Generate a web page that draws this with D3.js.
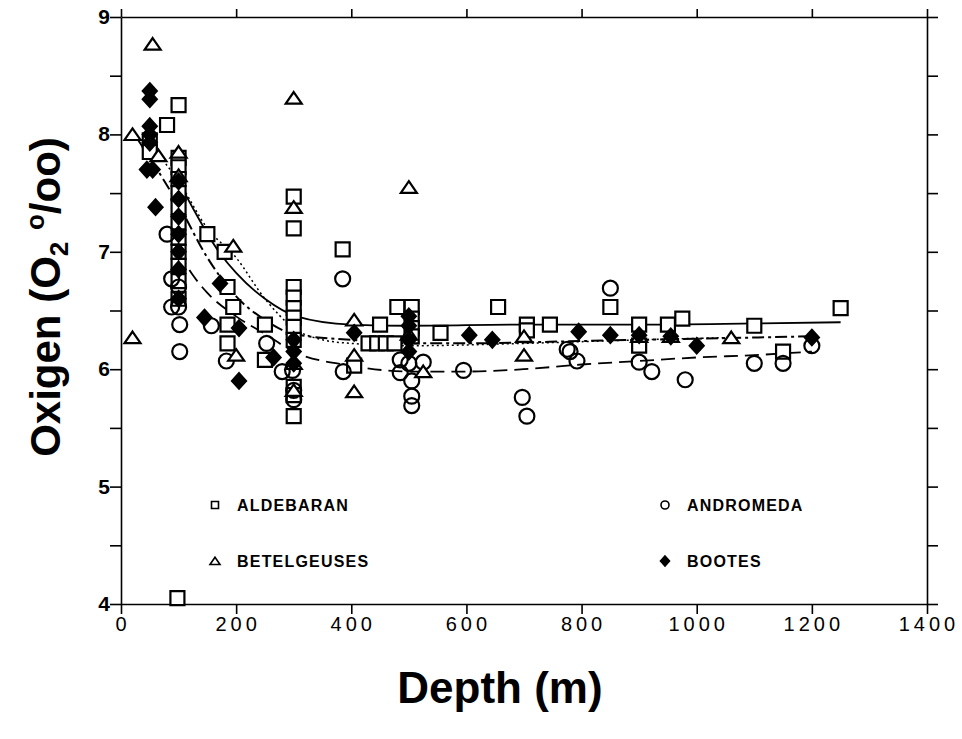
<!DOCTYPE html>
<html>
<head>
<meta charset="utf-8">
<script src="https://cdn.jsdelivr.net/npm/d3@7"></script>
<style>
body { margin: 0; background: #fff; }
</style>
</head>
<body>
<script>
// points: [depth m, oxygen]
var aldebaran = [[98,4.05],[100,8.25],[80,8.08],[100,7.8],[100,7.72],[100,7.62],[100,7.5],[100,7.38],[100,7.25],
    [100,7.12],[100,7.0],[100,6.88],[100,6.75],[100,6.6],[50,7.95],[50,7.85],[150,7.15],[180,7.0],[185,6.7],
    [195,6.53],[185,6.38],[185,6.22],[250,6.38],[250,6.08],[300,7.47],[300,7.2],[300,6.7],[300,6.61],[300,6.52],
    [300,6.44],[300,6.36],[300,6.25],[300,5.85],[300,5.78],[300,5.6],[385,7.02],[405,6.03],[430,6.22],[445,6.22],
    [460,6.22],[475,6.22],[450,6.38],[480,6.53],[505,6.53],[505,6.43],[505,6.35],[505,6.28],[555,6.31],[655,6.53],
    [705,6.38],[705,6.33],[745,6.38],[850,6.53],[900,6.38],[900,6.2],[950,6.38],[975,6.43],[1100,6.37],
    [1150,6.15],[1250,6.52]];
var andromeda = [[80,7.15],[88,6.77],[100,6.7],[88,6.53],[100,6.53],[102,6.38],[102,6.15],[157,6.37],[183,6.07],
    [253,6.22],[280,5.98],[298,5.99],[300,5.82],[300,5.74],[385,6.77],[386,5.98],[485,6.08],[485,5.97],[500,6.05],
    [505,5.9],[505,5.77],[505,5.69],[525,6.06],[595,5.99],[697,5.76],[705,5.6],[775,6.17],[780,6.15],[792,6.07],
    [850,6.69],[900,6.06],[922,5.98],[980,5.91],[1100,6.05],[1150,6.05],[1200,6.2]];
var betelgeuses = [[20,8.0],[20,6.27],[55,8.77],[65,7.82],[100,7.85],[100,7.65],[195,7.05],[200,6.12],[300,8.31],
    [300,7.38],[300,6.05],[300,5.82],[405,6.42],[405,6.12],[405,5.81],[500,7.55],[500,6.3],[525,5.98],[700,6.12],
    [700,6.28],[900,6.28],[955,6.28],[1060,6.27]];
var bootes = [[50,8.37],[50,8.3],[50,8.07],[50,8.0],[50,7.93],[45,7.7],[55,7.7],[60,7.38],[100,7.6],[100,7.45],
    [100,7.3],[100,7.15],[100,7.0],[100,6.85],[100,6.6],[145,6.44],[172,6.73],[205,6.35],[205,5.9],[265,6.1],
    [300,6.25],[300,6.15],[300,6.05],[405,6.31],[500,6.45],[500,6.37],[500,6.25],[500,6.15],[605,6.29],[645,6.25],
    [795,6.32],[850,6.29],[900,6.29],[955,6.28],[1000,6.2],[1200,6.27]];

// fitted curves
var aldebaranFit = [[100,7.6],[125,7.37],[170,7.0],[200,6.82],[250,6.6],[305,6.45],[400,6.38],[500,6.37],
    [700,6.38],[900,6.38],[1100,6.39],[1250,6.4]];
var andromedaFit = [[100,7.0],[125,6.8],[150,6.65],[200,6.45],[250,6.3],[300,6.15],[400,6.03],[500,5.98],
    [600,5.98],[700,6.0],[800,6.04],[900,6.07],[1000,6.1],[1100,6.12],[1200,6.15]];
var betelgeusesFit = [[20,8.0],[50,7.9],[100,7.6],[150,7.2],[200,6.95],[250,6.6],[300,6.35],[350,6.25],
    [400,6.22],[500,6.2],[700,6.22],[900,6.25],[1060,6.27]];
var bootesFit = [[30,7.95],[100,7.4],[150,6.95],[200,6.62],[250,6.42],[300,6.3],[400,6.25],[500,6.22],
    [600,6.22],[800,6.24],[1000,6.26],[1200,6.28]];

var xTicks = [0, 200, 400, 600, 800, 1000, 1200, 1400];
var yTicks = [4, 5, 6, 7, 8, 9];
var yMinor = [4, 4.5, 5, 5.5, 6, 6.5, 7, 7.5, 8, 8.5, 9];
var legendNames = ["ALDEBARAN", "ANDROMEDA", "BETELGEUSES", "BOOTES"];

var W = 962, H = 739;
var plotL = 121, plotR = 927, plotT = 17, plotB = 604;

var svg = d3.select("body").append("svg")
    .attr("width", W)
    .attr("height", H);

var x = d3.scaleLinear().domain([0, 1400]).range([plotL, plotR]);
var y = d3.scaleLinear().domain([4, 9]).range([plotB, plotT]);

var font = "'Liberation Sans', Arial, sans-serif";

// frame + ticks on all four sides
svg.append("g").attr("transform", "translate(0," + plotB + ")")
    .call(d3.axisBottom(x).tickValues(xTicks).tickSize(10).tickSizeOuter(0).tickFormat(""));
svg.append("g").attr("transform", "translate(0," + plotT + ")")
    .call(d3.axisTop(x).tickValues(xTicks).tickSize(8).tickSizeOuter(0).tickFormat(""));
svg.append("g").attr("transform", "translate(" + plotL + ",0)")
    .call(d3.axisLeft(y).tickValues(yMinor).tickSize(11).tickSizeOuter(0).tickFormat(""));
svg.append("g").attr("transform", "translate(" + plotR + ",0)")
    .call(d3.axisRight(y).tickValues(yMinor).tickSize(11).tickSizeOuter(0).tickFormat(""));
svg.selectAll(".domain, .tick line")
    .attr("stroke", "#000")
    .attr("stroke-width", 1.6);

// tick labels
svg.selectAll(".xlab")
    .data(xTicks)
    .enter()
    .append("text")
    .attr("x", function(d) { return x(d) + 2; })
    .attr("y", 631)
    .attr("text-anchor", "middle")
    .attr("font-family", font)
    .attr("font-size", "20px")
    .attr("letter-spacing", "4px")
    .text(function(d) { return d; });

svg.selectAll(".ylab")
    .data(yTicks)
    .enter()
    .append("text")
    .attr("x", 110)
    .attr("y", function(d) { return y(d) + 7; })
    .attr("text-anchor", "end")
    .attr("font-family", font)
    .attr("font-weight", "bold")
    .attr("font-size", "21px")
    .text(function(d) { return d; });

// axis titles
svg.append("text")
    .attr("x", 500)
    .attr("y", 703)
    .attr("text-anchor", "middle")
    .attr("font-family", font)
    .attr("font-weight", "bold")
    .attr("font-size", "44px")
    .text("Depth (m)");

var yt = svg.append("text")
    .attr("transform", "translate(60,297) rotate(-90)")
    .attr("text-anchor", "middle")
    .attr("font-family", font)
    .attr("font-weight", "bold")
    .attr("font-size", "42px");
yt.append("tspan").text("Oxigen (O");
yt.append("tspan").attr("dy", 8).attr("font-size", "26px").text("2");
yt.append("tspan").attr("dy", -8).text(" ");
yt.append("tspan").attr("dy", -16).attr("font-size", "26px").text("o");
yt.append("tspan").attr("dy", 16).text("/oo)");

// fitted curves
var line = d3.line()
    .x(function(d) { return x(d[0]); })
    .y(function(d) { return y(d[1]); })
    .curve(d3.curveMonotoneX);

var fits = [
    { pts: aldebaranFit, dash: null, w: 1.8 },
    { pts: andromedaFit, dash: "14,7", w: 1.8 },
    { pts: betelgeusesFit, dash: "2,3", w: 1.5 },
    { pts: bootesFit, dash: "12,4,3,4", w: 2 }
];
svg.selectAll(".fit")
    .data(fits)
    .enter()
    .append("path")
    .attr("d", function(d) { return line(d.pts); })
    .attr("fill", "none")
    .attr("stroke", "#000")
    .attr("stroke-width", function(d) { return d.w; })
    .attr("stroke-dasharray", function(d) { return d.dash; });

// marker shapes
function square(s) { return "M" + (-s) + "," + (-s) + "H" + s + "V" + s + "H" + (-s) + "Z"; }
function tri(s) { return "M0," + (-s * 0.75) + "L" + s + "," + (s * 0.7) + "L" + (-s) + "," + (s * 0.7) + "Z"; }
function diamond(s) { return "M0," + (-s * 1.1) + "L" + s + ",0L0," + (s * 1.1) + "L" + (-s) + ",0Z"; }
function circle(s) { return "M" + s + ",0A" + s + "," + s + " 0 1,1 " + (-s) + ",0A" + s + "," + s + " 0 1,1 " + s + ",0Z"; }

var series = [
    { data: aldebaran, shape: square, size: 7, fill: "#fff" },
    { data: andromeda, shape: circle, size: 7.5, fill: "none" },
    { data: betelgeuses, shape: tri, size: 8, fill: "#fff" },
    { data: bootes, shape: diamond, size: 7, fill: "#000" }
];

series.forEach(function(s) {
    svg.append("g").selectAll("path")
        .data(s.data)
        .enter()
        .append("path")
        .attr("transform", function(d) { return "translate(" + x(d[0]) + "," + y(d[1]) + ")"; })
        .attr("d", s.shape(s.size))
        .attr("fill", s.fill)
        .attr("stroke", "#000")
        .attr("stroke-width", 2.2);
});

// legend
var legPos = [[215, 505], [665, 505], [215, 561], [665, 561]];
var legShapes = [square(3.5), circle(4), tri(5), diamond(4.5)];
var legFill = ["#fff", "#fff", "#fff", "#000"];
legendNames.forEach(function(name, i) {
    svg.append("path")
        .attr("transform", "translate(" + legPos[i][0] + "," + legPos[i][1] + ")")
        .attr("d", legShapes[i])
        .attr("fill", legFill[i])
        .attr("stroke", "#000")
        .attr("stroke-width", 1.6);
    svg.append("text")
        .attr("x", legPos[i][0] + 22)
        .attr("y", legPos[i][1] + 6)
        .attr("font-family", font)
        .attr("font-weight", "bold")
        .attr("font-size", "16px")
        .attr("letter-spacing", "1.2px")
        .text(name);
});
</script>
</body>
</html>
